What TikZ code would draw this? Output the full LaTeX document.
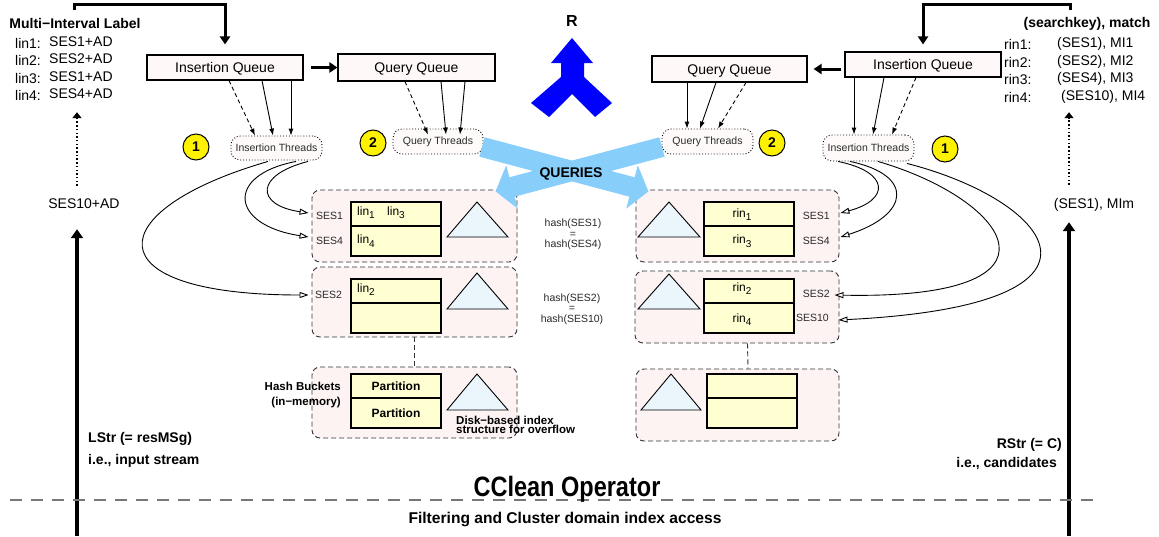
\documentclass[tikz,border=0pt]{standalone}
\usepackage{fontspec}
\setmainfont{Liberation Sans}
\newfontfamily\condsans[FakeStretch=0.84]{Liberation Sans}
\usetikzlibrary{arrows.meta,calc}

\newcommand\fsz[1]{\fontsize{#1}{#1}\selectfont}
\newcommand\subidx[1]{\raisebox{-3.5pt}{\fsz{10}#1}}

\definecolor{qfill}{HTML}{FFF8F8}
\definecolor{tfill}{HTML}{FFFAFA}
\definecolor{hfill}{HTML}{FDF3F3}
\definecolor{cfill}{HTML}{FFFFD2}
\definecolor{trifill}{HTML}{EAF5FC}
\definecolor{qblue}{HTML}{87CEFA}
\definecolor{rblue}{HTML}{0000FF}
\definecolor{sepgray}{HTML}{777777}
\definecolor{txtgray}{HTML}{2A2A2A}

\begin{document}
\begin{tikzpicture}[x=1pt,y=-1pt,
  lab/.style={inner sep=0pt, font=\fsz{14}, text height=10pt, text depth=0pt},
  blab/.style={lab, font=\fsz{14}\bfseries},
  small/.style={inner sep=0pt, font=\fsz{10.5}, text=txtgray, text height=7.5pt, text depth=0pt},
  queue/.style={draw, line width=1.1pt, fill=qfill, inner sep=0pt, font=\fsz{14},
    minimum width=156pt, minimum height=25pt, text height=10pt, text depth=0pt},
  thr/.style={draw, dotted, line width=0.9pt, rounded corners=9pt, fill=tfill, inner sep=0pt,
    minimum width=91pt, minimum height=25pt, font=\fsz{10.5}, text=txtgray},
  num/.style={circle, draw, line width=1pt, fill=yellow, minimum size=26pt, inner sep=0pt,
    font=\fsz{14}\bfseries},
  hbox/.style={draw=black!80, dash pattern=on 5pt off 3pt, line width=0.9pt,
    rounded corners=8pt, fill=hfill, inner sep=0pt},
  cell/.style={draw, line width=1.1pt, fill=cfill, inner sep=0pt, minimum width=90pt},
  tri/.style={draw, line width=0.9pt, fill=trifill, line join=miter},
  bigarrow/.style={line width=4pt, -{Triangle[length=9pt,width=12pt]}},
  midarrow/.style={line width=3pt, -{Triangle[length=8pt,width=10pt]}},
  tarrow/.style={line width=0.9pt, -{Latex[length=7pt,width=5pt]}},
  tdash/.style={tarrow, dash pattern=on 4pt off 3pt},
  carrow/.style={line width=0.9pt, -{Triangle[fill=white,length=9pt,width=6pt]}},
  dotarrow/.style={line width=1.6pt, dash pattern=on 1.5pt off 2.2pt, -{Triangle[length=6pt,width=9pt]}},
  hdash/.style={draw=black!80, dash pattern=on 5pt off 3pt, line width=0.9pt},
  sepline/.style={draw=sepgray, line width=1.2pt, dash pattern=on 12pt off 9pt}]

\useasboundingbox (0,0) rectangle (1159,536);
\fill[white] (0,0) rectangle (1159,536);

% ---------- left legend: multi-interval labels ----------
\node[blab] (mlhead) at (75,23) {Multi−Interval Label};
\node[lab, anchor=west] (lk1) at (15,43) {lin1:};
\node[lab, anchor=west] (lv1) at (49,41) {SES1+AD};
\node[lab, anchor=west] (lk2) at (15,60) {lin2:};
\node[lab, anchor=west] (lv2) at (49,58) {SES2+AD};
\node[lab, anchor=west] (lk3) at (15,78) {lin3:};
\node[lab, anchor=west] (lv3) at (49,76) {SES1+AD};
\node[lab, anchor=west] (lk4) at (15,95) {lin4:};
\node[lab, anchor=west] (lv4) at (49,93) {SES4+AD};
\node[lab] (ses10ad) at (84,203) {SES10+AD};
\node[blab, anchor=west] (lstr1) at (88,437) {LStr (= resMSg)};
\node[blab, anchor=west] (lstr2) at (88,459) {i.e., input stream};

% ---------- right legend: search keys and matches ----------
\node[blab] (rshead) at (1087,22) {(searchkey), match};
\node[lab, anchor=west] (rk1) at (1004,44) {rin1:};
\node[lab, anchor=west] (rv1) at (1057,42) {(SES1), MI1};
\node[lab, anchor=west] (rk2) at (1004,62) {rin2:};
\node[lab, anchor=west] (rv2) at (1057,60) {(SES2), MI2};
\node[lab, anchor=west] (rk3) at (1004,79) {rin3:};
\node[lab, anchor=west] (rv3) at (1057,77) {(SES4), MI3};
\node[lab, anchor=west] (rk4) at (1004,97) {rin4:};
\node[lab, anchor=west] (rv4) at (1061,95) {(SES10), MI4};
\node[lab] (rses) at (1094,203) {(SES1), MIm};
\node[blab, anchor=east] (rstr1) at (1062,443) {RStr (= C)};
\node[blab, anchor=east] (rstr2) at (1057,462) {i.e., candidates};

% ---------- input streams ----------
\coordinate (lfoot) at (77,536);
\coordinate (rfoot) at (1069,536);
\draw[bigarrow, shorten >=21pt] (lfoot) -- (lfoot |- ses10ad.south);
\draw[bigarrow, shorten >=14pt] (rfoot) -- (rfoot |- rses.south);
\draw[dotarrow, shorten <=12pt, shorten >=14pt] (lfoot |- ses10ad.north) -- (lfoot |- lv4.south);
\draw[dotarrow, shorten <=13pt, shorten >=12pt] (rfoot |- rses.north) -- (rfoot |- rv4.south);

% ---------- queues ----------
\node[queue] (iql) at (225,67.5) {Insertion Queue};
\node[queue, minimum width=157pt, minimum height=27pt] (qql) at (416.5,67.5) {Query Queue};
\node[queue, minimum width=155pt, minimum height=26pt] (qqr) at (729.5,69) {Query Queue};
\node[queue] (iqr) at (923,64.5) {Insertion Queue};

\coordinate (lbr) at (74,10);
\coordinate (rbr) at (1070,10);
\draw[midarrow, shorten >=10pt] (lbr) -- ++(0,-6) -| (iql.north);
\draw[midarrow, shorten >=7pt] (rbr) -- ++(0,-6) -| (iqr.north);
\draw[midarrow, shorten <=7pt] (iql.east) -- (qql.west);
\draw[midarrow, shorten <=3pt, shorten >=6pt] (iqr.west |- qqr.east) -- (qqr.east);

% ---------- worker threads ----------
\node[thr, minimum height=24pt] (itl) at (276.5,148) {Insertion Threads};
\node[thr, minimum width=90pt] (qtl) at (438,141.5) {Query Threads};
\node[thr] (qtr) at (707.5,141.5) {Query Threads};
\node[thr, minimum height=26pt] (itr) at (868.5,148) {Insertion Threads};

\node[num] (c1l) at (196,147) {1};
\node[num] (c2l) at (373,143) {2};
\node[num] (c2r) at (772,143) {2};
\node[num] (c1r) at (945,149) {1};

\draw[tdash] ($(iql.south)+(4,0)$) -- ($(itl.north)+(-21.5,0)$);
\draw[tarrow] ($(iql.south)+(37,0)$) -- ($(itl.north)+(-3.5,0)$);
\draw[tarrow] ($(iql.south)+(66,0)$) -- ($(itl.north)+(14.5,0)$);

\draw[tdash] ($(qql.south)+(-11.5,0)$) -- ($(qtl.north)+(-10,6)$);
\draw[tarrow] ($(qql.south)+(24.5,0)$) -- ($(qtl.north)+(8,6)$);
\draw[tarrow] ($(qql.south)+(48.5,0)$) -- ($(qtl.north)+(22,6)$);

\draw[tarrow] ($(qqr.south)+(-42.5,0)$) -- ($(qtr.north)+(-20.5,0)$);
\draw[tarrow] ($(qqr.south)+(-13.5,0)$) -- ($(qtr.north)+(-7.5,0)$);
\draw[tdash] ($(qqr.south)+(16.5,0)$) -- ($(qtr.north)+(10.5,0)$);

\draw[tarrow] ($(iqr.south)+(-69,0)$) -- ($(itr.north)+(-14.5,0)$);
\draw[tarrow] ($(iqr.south)+(-39,0)$) -- ($(itr.north)+(4.5,0)$);
\draw[tdash] ($(iqr.south)+(-7,0)$) -- ($(itr.north)+(23.5,0)$);

% ---------- result arrow ----------
\node[font=\fsz{16}\bfseries, inner sep=0pt] (rlab) at (572,21) {R};
\fill[rblue] (572,38) -- (593,63) -- (584,63) -- (584,77) -- (612,103) -- (595,117)
  -- (572,94) -- (549,117) -- (531,103) -- (561,77) -- (561,63) -- (551,63) -- cycle;

% ---------- hash buckets, left side ----------
\node[hbox, minimum width=205pt, minimum height=72pt] (L1) at (414.5,226) {};
\node[hbox, minimum width=205pt, minimum height=70pt] (L2) at (414.5,302) {};
\node[hbox, minimum width=205pt, minimum height=71pt] (L3) at (414.5,402.5) {};
\draw[hdash] (L2.south) -- (L3.north);

\node[cell, minimum height=24pt] (cl1a) at (396,214) {};
\node[cell, minimum height=30pt] (cl1b) at (396,241) {};
\node[cell, minimum height=24pt] (cl2a) at (396,291) {};
\node[cell, minimum height=30pt] (cl2b) at (396,318) {};
\node[cell, minimum height=24pt, font=\fsz{12}\bfseries] (cl3a) at (396,386) {Partition};
\node[cell, minimum height=30pt, font=\fsz{12}\bfseries] (cl3b) at (396,413) {Partition};

\draw[tri] (477,202) -- (447,237) -- (508,237) -- cycle;
\draw[tri] (477,273) -- (447,309) -- (508,309) -- cycle;
\draw[tri] (477,374) -- (447,410) -- (508,410) -- cycle;

\node[inner sep=0pt, anchor=base west, font=\fsz{12}] (lin1) at (357,215) {lin\subidx{1}};
\node[inner sep=0pt, anchor=base west, font=\fsz{12}] (lin3) at (387,215) {lin\subidx{3}};
\node[inner sep=0pt, anchor=base west, font=\fsz{12}] (lin4) at (357,243.5) {lin\subidx{4}};
\node[inner sep=0pt, anchor=base west, font=\fsz{12}] (lin2) at (357,292) {lin\subidx{2}};

\node[small, anchor=west] (sesL1) at (316,216) {SES1};
\node[small, anchor=west] (sesL4) at (316,241) {SES4};
\node[small, anchor=west] (sesL2) at (315,295) {SES2};

\node[blab, font=\fsz{11.5}\bfseries, text height=8pt, anchor=east] (hb1) at (341,386) {Hash Buckets};
\node[blab, font=\fsz{11.5}\bfseries, text height=8pt, anchor=east] (hb2) at (341,401) {(in−memory)};
\node[blab, font=\fsz{11.5}\bfseries, text height=8pt, anchor=west] (dk1) at (456,420) {Disk−based index};
\node[blab, font=\fsz{11.5}\bfseries, text height=8pt, anchor=west] (dk2) at (456,429.5) {structure for overflow};

% ---------- hash buckets, right side ----------
\node[hbox, minimum width=203pt, minimum height=72pt] (R1) at (737.5,226) {};
\node[hbox, minimum width=204pt, minimum height=72pt] (R2) at (737,307) {};
\node[hbox, minimum width=203pt, minimum height=72pt] (R3) at (737.5,405) {};
\draw[hdash] ([xshift=10.5pt]R2.south) -- ([xshift=10.5pt]R3.north);

\node[cell, minimum height=24pt] (cr1a) at (749,214) {};
\node[cell, minimum height=30pt] (cr1b) at (749,241) {};
\node[cell, minimum height=24pt] (cr2a) at (749,291) {};
\node[cell, minimum height=30pt] (cr2b) at (749,318) {};
\node[cell, minimum height=24pt] (cr3a) at (752,386) {};
\node[cell, minimum height=30pt] (cr3b) at (752,413) {};

\draw[tri] (669,202) -- (638,237) -- (700,237) -- cycle;
\draw[tri] (669,274) -- (638,309) -- (700,309) -- cycle;
\draw[tri] (671,374) -- (641,410) -- (701,410) -- cycle;

\node[inner sep=0pt, anchor=base, font=\fsz{12}] (rin1) at (742,217) {rin\subidx{1}};
\node[inner sep=0pt, anchor=base, font=\fsz{12}] (rin3) at (742,243.5) {rin\subidx{3}};
\node[inner sep=0pt, anchor=base, font=\fsz{12}] (rin2) at (742,291) {rin\subidx{2}};
\node[inner sep=0pt, anchor=base, font=\fsz{12}] (rin4) at (742,322) {rin\subidx{4}};

\node[small, anchor=east] (sesR1) at (830,216) {SES1};
\node[small, anchor=east] (sesR4) at (830,241) {SES4};
\node[small, anchor=east] (sesR2) at (830,294) {SES2};
\node[small, anchor=east] (sesR10) at (829,318) {SES10};

% ---------- hash equalities ----------
\node[small, align=center, font=\fsz{10.5}, text height=, text depth=, inner sep=0pt] (eq1) at (573,234.5)
  {\fontsize{10.5}{11.5}\selectfont hash(SES1)\\=\\hash(SES4)};
\node[small, align=center, font=\fsz{10.5}, text height=, text depth=, inner sep=0pt] (eq2) at (572,309)
  {\fontsize{10.5}{12}\selectfont hash(SES2)\\=\\hash(SES10)};

% ---------- insertion threads to buckets ----------
\draw[carrow] ($(itl.south)+(31.5,1)$) .. controls (255,175) and (255,205) .. ($(L1.west)+(-3,-13)$);
\draw[carrow] ($(itl.south)+(19.5,1)$) .. controls (225,175) and (230,225) .. ($(L1.west)+(-3,11)$);
\draw[carrow] ($(itl.south)+(-8.5,1)$) .. controls (100,210) and (90,295) .. ($(L2.west)+(-3,-7)$);
\draw[carrow] ($(itr.south)+(-30.5,0)$) .. controls (890,172) and (890,200) .. ($(R1.east)+(1,-13)$);
\draw[carrow] ($(itr.south)+(-18.5,0)$) .. controls (915,175) and (910,215) .. ($(R1.east)+(1,11)$);
\draw[carrow] ($(itr.south)+(9.5,0)$) .. controls (1010,200) and (1080,300) .. ($(R2.east)+(-5,-12)$);
\draw[carrow] ($(itr.south)+(38.5,2)$) .. controls (1050,200) and (1140,305) .. ($(R2.east)+(-1,13)$);

% ---------- crossing query arrows ----------
\fill[qblue] (484.6,137.3) -- (634.6,177.3) -- (637.8,165.3) -- (648.4,191.4)
  -- (626.2,208.7) -- (629.4,196.7) -- (479.4,156.7) -- cycle;
\fill[qblue] (659.4,137.3) -- (509.4,177.3) -- (506.2,165.3) -- (495.6,191.4)
  -- (517.8,208.7) -- (514.6,196.7) -- (664.6,156.7) -- cycle;
\node[blab] (queries) at (571,172) {QUERIES};

% ---------- operator boundary ----------
\coordinate (sepL) at (10,500);
\coordinate (sepR) at (1100,500);
\draw[sepline] (sepL) -- (sepR);
\node[inner sep=0pt, anchor=base, font=\condsans\bfseries\fsz{28}] (op) at (567,496.5) {CClean Operator};
\node[inner sep=0pt, anchor=base, font=\fsz{15.6}\bfseries] (filt) at (565,523) {Filtering and Cluster domain index access};

\end{tikzpicture}
\end{document}
